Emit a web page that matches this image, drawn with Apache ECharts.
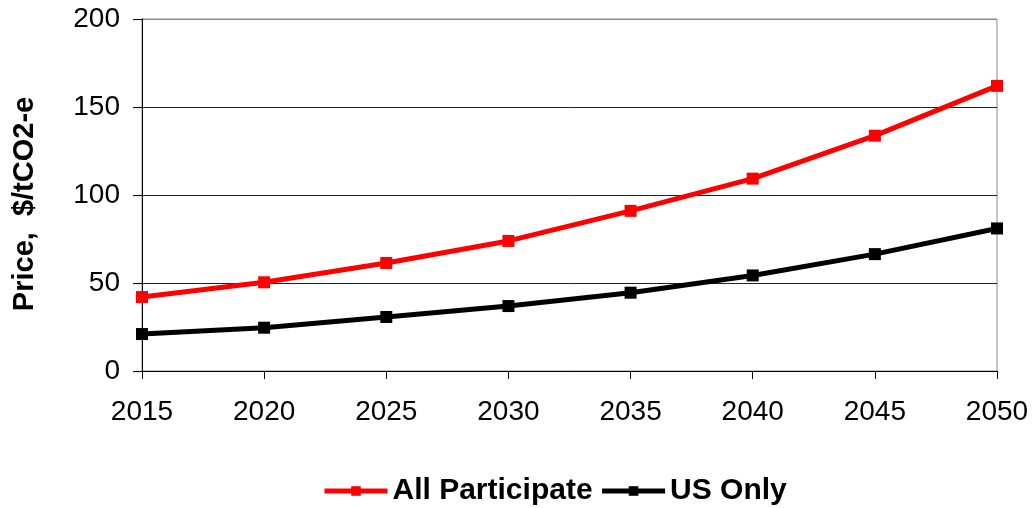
<!DOCTYPE html>
<html><head><meta charset="utf-8">
<script src="https://cdn.jsdelivr.net/npm/echarts@6/dist/echarts.min.js"></script>
<style>html,body{margin:0;padding:0;background:#fff}#c{width:1034px;height:508px}</style>
</head><body><div id="c"></div>
<script>
const years = ['2015','2020','2025','2030','2035','2040','2045','2050'];
const allParticipate = [42, 50.4, 61.4, 73.9, 91, 109.3, 133.7, 162];
const usOnly = [21, 24.6, 30.7, 36.9, 44.5, 54.3, 66.4, 81];
const yTicks = [0, 50, 100, 150, 200];

const font = 'Liberation Sans, Arial, sans-serif';
const chart = echarts.init(document.getElementById('c'), null, {renderer:'canvas'});
chart.setOption({
  animation: false,
  backgroundColor: '#fff',
  grid: {left: 142, right: 37, top: 19, bottom: 137, show: true, borderColor: '#888', borderWidth: 1, containLabel: false},
  xAxis: {
    type: 'category', data: years, boundaryGap: false,
    axisLine: {lineStyle: {color: '#000', width: 1}},
    axisTick: {show: true, length: 8, alignWithLabel: true, lineStyle: {color: '#000'}},
    axisLabel: {color: '#000', fontSize: 28, fontFamily: font, margin: 27},
    splitLine: {show: false}
  },
  yAxis: {
    type: 'value', min: yTicks[0], max: yTicks[yTicks.length-1], interval: 50,
    name: 'Price,  $/tCO2-e', nameLocation: 'middle', nameGap: 103,
    nameTextStyle: {color: '#000', fontSize: 29, fontWeight: 'bold', fontFamily: font, padding: [0, 18, 0, 0]},
    axisLine: {show: true, lineStyle: {color: '#000', width: 1}},
    axisTick: {show: true, length: 9, lineStyle: {color: '#000'}},
    axisLabel: {color: '#000', fontSize: 28, fontFamily: font, margin: 22},
    splitLine: {show: true, lineStyle: {color: ['#222','#222','#222','#222','#888'], width: 1}}
  },
  legend: {
    top: 476, left: 322, padding: 0, itemGap: 7, itemWidth: 63, itemHeight: 12,
    lineStyle: {width: 5},
    textStyle: {color: '#000', fontSize: 30, fontWeight: 'bold', fontFamily: font},
    data: ['All Participate', 'US Only']
  },
  series: [
    {name: 'All Participate', type: 'line', data: allParticipate, symbol: 'rect', symbolSize: 12,
     lineStyle: {color: '#ff0000', width: 5}, itemStyle: {color: '#ff0000'}},
    {name: 'US Only', type: 'line', data: usOnly, symbol: 'rect', symbolSize: 12,
     lineStyle: {color: '#000', width: 5}, itemStyle: {color: '#000'}}
  ]
});
</script></body></html>
